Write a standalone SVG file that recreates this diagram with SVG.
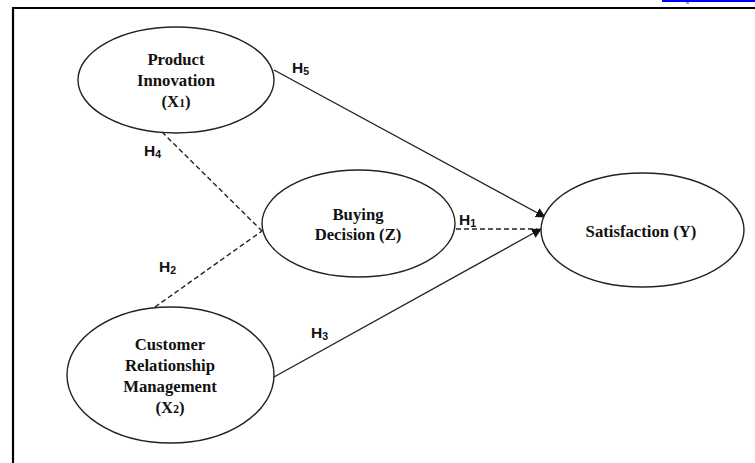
<svg xmlns="http://www.w3.org/2000/svg" width="755" height="463" viewBox="0 0 755 463">
<style>
.node ellipse{fill:#fff;stroke:#222;stroke-width:1.4}
.lbl{font-family:"Liberation Serif","Times New Roman",serif;font-weight:bold;font-size:16.7px;fill:#111;text-anchor:middle}
.h{font-family:"Liberation Sans",Arial,sans-serif;font-weight:bold;font-size:15.5px;fill:#111}
.sub{font-size:10.5px}
.c line{stroke:#222;stroke-width:1.4;fill:none}
.c .d{stroke-dasharray:5 3}
</style>
<defs>
<marker id="ah" viewBox="0 0 10 10" refX="9" refY="5" markerWidth="10" markerHeight="10" markerUnits="userSpaceOnUse" orient="auto">
<path d="M0,0 L10,5 L0,10 z" fill="#111"/>
</marker>
</defs>
<rect width="755" height="463" fill="#fff"/>
<rect x="662" y="0" width="93" height="2" fill="#0000ff"/>
<rect x="686" y="2" width="3" height="2" fill="#9999ff"/>
<path d="M13,463 V8 H755" fill="none" stroke="#000" stroke-width="2.2"/>
<g class="c" id="connectors">
<line x1="274" y1="70" x2="545" y2="217" marker-end="url(#ah)"/>
<line class="d" x1="456" y1="229" x2="537" y2="229"/>
<line x1="274" y1="377" x2="541" y2="229" marker-end="url(#ah)"/>
<line class="d" x1="162" y1="132" x2="262" y2="231"/>
<line class="d" x1="155" y1="307" x2="262" y2="231"/>
</g>
<g class="node" id="n_pi">
<ellipse cx="176" cy="80" rx="98" ry="53"/>
<text class="lbl" x="176" y="65">Product</text>
<text class="lbl" x="176" y="86">Innovation</text>
<text class="lbl" x="176" y="107">(X<tspan font-size="11.5px">1</tspan>)</text>
</g>
<g class="node" id="n_bd">
<ellipse cx="358.5" cy="223.5" rx="96.5" ry="53.5"/>
<text class="lbl" x="358" y="220">Buying</text>
<text class="lbl" x="358" y="240">Decision (Z)</text>
</g>
<g class="node" id="n_crm">
<ellipse cx="170.5" cy="375" rx="103.5" ry="68"/>
<text class="lbl" x="170" y="350">Customer</text>
<text class="lbl" x="170" y="371">Relationship</text>
<text class="lbl" x="170" y="392">Management</text>
<text class="lbl" x="170" y="413">(X<tspan font-size="11.5px">2</tspan>)</text>
</g>
<g class="node" id="n_sat">
<ellipse cx="642.5" cy="230" rx="101.5" ry="57"/>
<text class="lbl" x="641" y="237">Satisfaction (Y)</text>
</g>
<g id="labels">
<text class="h" x="292" y="73">H<tspan class="sub" dy="2">5</tspan></text>
<text class="h" x="144" y="156">H<tspan class="sub" dy="2">4</tspan></text>
<text class="h" x="459" y="225">H<tspan class="sub" dy="2">1</tspan></text>
<text class="h" x="159" y="272">H<tspan class="sub" dy="2">2</tspan></text>
<text class="h" x="311" y="338">H<tspan class="sub" dy="2">3</tspan></text>
</g>
</svg>
